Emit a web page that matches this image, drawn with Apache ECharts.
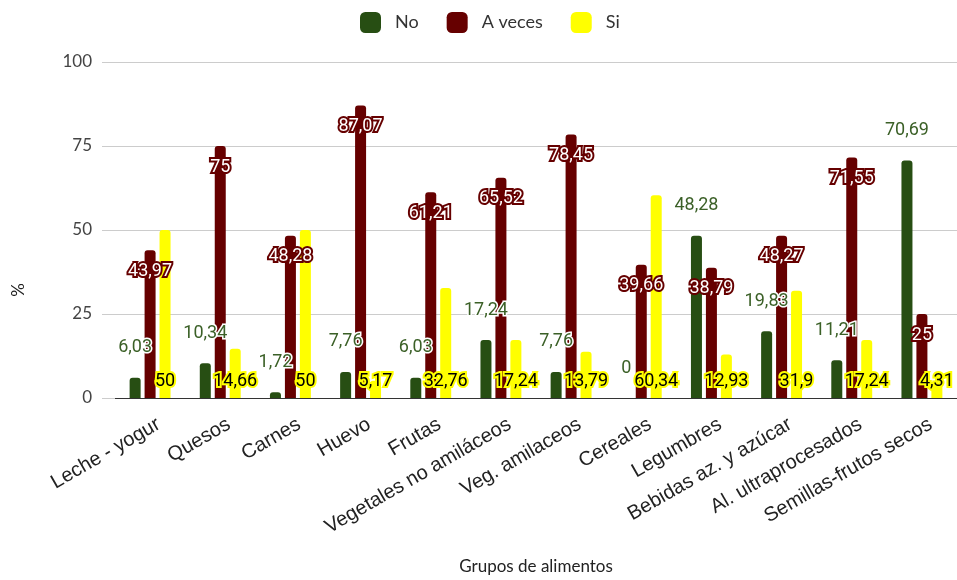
<!DOCTYPE html>
<html>
<head>
<meta charset="utf-8">
<script src="https://cdn.jsdelivr.net/npm/echarts@6/dist/echarts.min.js"></script>
<style>
  html, body { margin: 0; padding: 0; background: #fff; }
  #chart { width: 957px; height: 580px; }
</style>
</head>
<body>
<div id="chart"></div>
<script>
// Food groups on the category axis
const categories = [
  'Leche - yogur', 'Quesos', 'Carnes', 'Huevo', 'Frutas',
  'Vegetales no amiláceos', 'Veg. amilaceos', 'Cereales', 'Legumbres',
  'Bebidas az. y azúcar', 'Al. ultraprocesados', 'Semillas-frutos secos'
];

// Percentage of answers per group
const seriesNames = ['No', 'A veces', 'Si'];
const noValues     = [6.03, 10.34, 1.72, 7.76, 6.03, 17.24, 7.76, 0, 48.28, 19.83, 11.21, 70.69];
const aVecesValues = [43.97, 75, 48.28, 87.07, 61.21, 65.52, 78.45, 39.66, 38.79, 48.27, 71.55, 25];
const siValues     = [50, 14.66, 50, 5.17, 32.76, 17.24, 13.79, 60.34, 12.93, 31.9, 17.24, 4.31];

// Value axis ticks
const yTicks = [0, 25, 50, 75, 100];

const COLORS = ['#274e13', '#660000', '#ffff00'];
const LABEL_FONT = 'Roboto, "Liberation Sans", sans-serif';
const UI_FONT = 'Lato, "Noto Sans", sans-serif';

// Decimal comma, as used in Spanish
const fmt = p => String(p.value).replace('.', ',');

const barBase = {
  type: 'bar',
  barWidth: 11,
  barGap: '36%',
  itemStyle: { borderRadius: [3, 3, 0, 0] }
};

const chart = echarts.init(document.getElementById('chart'), null, { renderer: 'canvas' });

chart.setOption({
  animation: false,
  color: COLORS,
  legend: {
    left: 355,
    top: 7,
    itemWidth: 21,
    itemHeight: 21,
    itemGap: 28,
    icon: 'roundRect',
    data: seriesNames,
    textStyle: { fontFamily: UI_FONT, fontSize: 18, color: '#333', padding: [0, 0, 0, 9] }
  },
  grid: { left: 115, right: 0, top: 62, bottom: 181, containLabel: false },
  xAxis: {
    type: 'category',
    data: categories,
    name: 'Grupos de alimentos',
    nameLocation: 'middle',
    nameGap: 160,
    nameTextStyle: { fontFamily: UI_FONT, fontSize: 17, color: '#222' },
    axisLine: { lineStyle: { color: '#333', width: 1 } },
    axisTick: { show: false },
    axisLabel: {
      rotate: 30,
      interval: 0,
      margin: 30,
      fontFamily: '"Liberation Sans", Arial, sans-serif',
      fontSize: 20,
      color: '#222',
      padding: [0, -10, 0, 0]
    }
  },
  yAxis: {
    type: 'value',
    min: yTicks[0],
    max: yTicks[yTicks.length - 1],
    interval: yTicks[1] - yTicks[0],
    axisLine: { show: false },
    axisTick: { show: true, length: 13, lineStyle: { color: '#ccc' } },
    splitLine: { lineStyle: { color: '#ccc', width: 1 } },
    axisLabel: { margin: 23, fontFamily: UI_FONT, fontSize: 17, color: '#444' }
  },
  graphic: [{
    type: 'text',
    left: 10,
    top: 283,
    rotation: Math.PI / 2,
    style: { text: '%', fontFamily: UI_FONT, fontSize: 17, fill: '#222' }
  }],
  series: [
    Object.assign({}, barBase, {
      name: seriesNames[0],
      data: noValues,
      label: {
        show: true, position: 'top', distance: 21, formatter: fmt,
        fontFamily: LABEL_FONT, fontSize: 18, color: '#3b6027',
        textBorderColor: '#fff', textBorderWidth: 3
      }
    }),
    Object.assign({}, barBase, {
      name: seriesNames[1],
      data: aVecesValues,
      label: {
        show: true, position: 'insideTop', distance: 12, formatter: fmt,
        fontFamily: LABEL_FONT, fontSize: 18, color: '#fff',
        textBorderColor: '#660000', textBorderWidth: 4
      }
    }),
    Object.assign({}, barBase, {
      name: seriesNames[2],
      data: siValues,
      label: {
        show: true, position: 'insideBottom', distance: 8, formatter: fmt,
        fontFamily: LABEL_FONT, fontSize: 18, color: '#000',
        textBorderColor: '#ffff00', textBorderWidth: 4
      }
    })
  ]
});
</script>
</body>
</html>
